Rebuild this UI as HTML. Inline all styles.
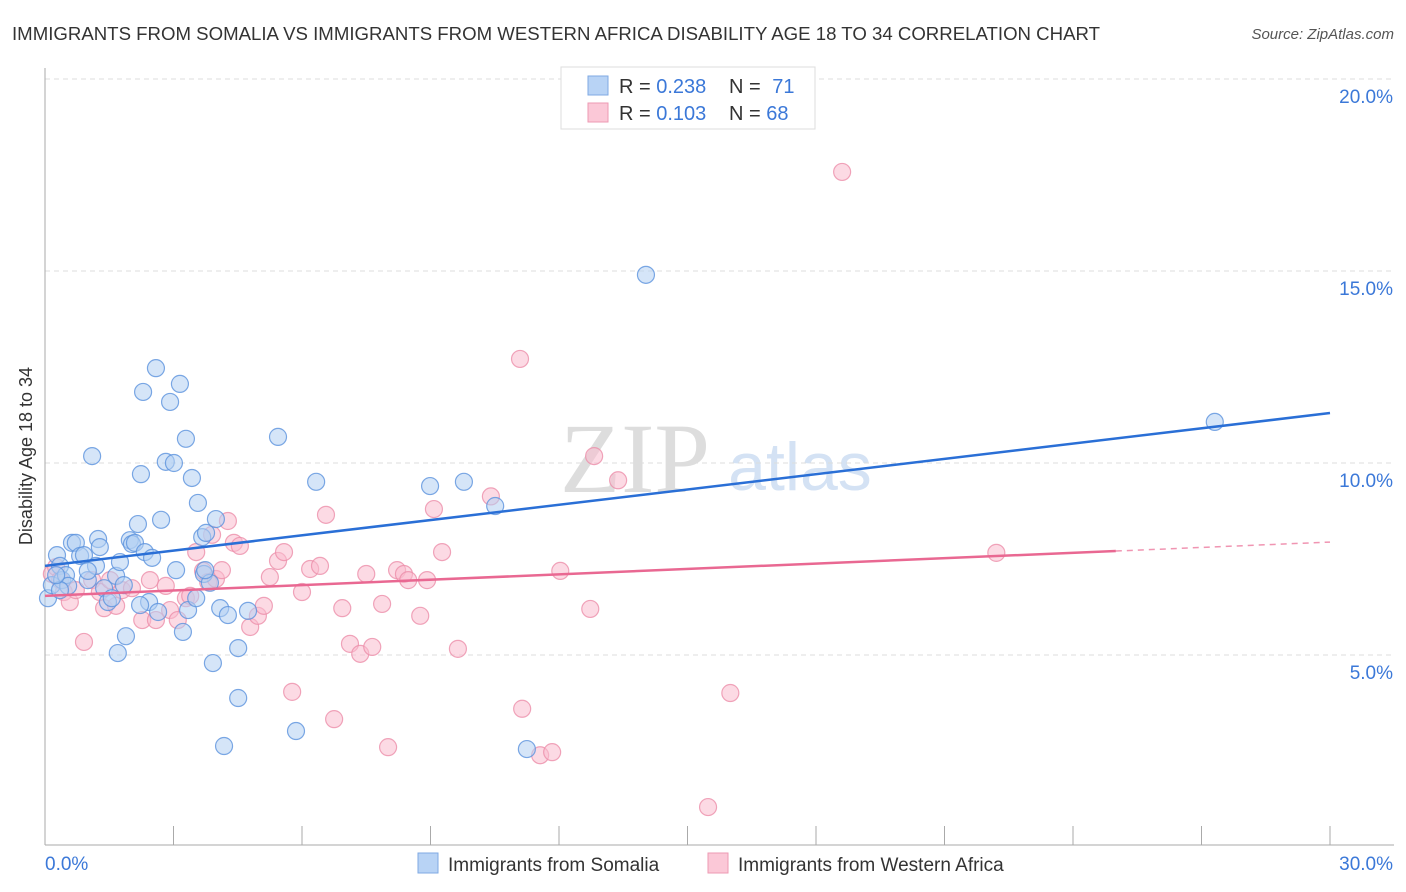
<!DOCTYPE html>
<html><head><meta charset="utf-8">
<style>
body{margin:0;background:#fff;font-family:"Liberation Sans",sans-serif;}
svg{display:block}
</style></head>
<body>
<svg id="chart" width="1406" height="892" xmlns="http://www.w3.org/2000/svg">
<text x="12" y="40" font-size="18" fill="#333" textLength="1088" lengthAdjust="spacingAndGlyphs">IMMIGRANTS FROM SOMALIA VS IMMIGRANTS FROM WESTERN AFRICA DISABILITY AGE 18 TO 34 CORRELATION CHART</text>
<text x="1394" y="39" font-size="15" fill="#555" font-style="italic" text-anchor="end">Source: ZipAtlas.com</text>
<text x="32" y="456" font-size="18" fill="#333" text-anchor="middle" transform="rotate(-90 32 456)">Disability Age 18 to 34</text>
<g>
<text x="635" y="492" font-size="100" fill="#ddd" font-family="Liberation Serif,serif" text-anchor="middle">ZIP</text>
<text x="800" y="490" font-size="68" fill="#d4e2f4" text-anchor="middle">atlas</text>
</g>
<g id="grid"></g>
<g id="axes"></g>
<g id="pts"></g>
<g id="lines"></g>
<g>
<rect x="561" y="67" width="254" height="62" fill="#fff" stroke="#ddd"/>
<rect x="588" y="76" width="20" height="19" fill="#b8d3f5" stroke="#7fa9e3"/>
<rect x="588" y="103" width="20" height="19" fill="#fbc8d7" stroke="#ee9ab3"/>
<text x="619" y="93" font-size="20" fill="#333">R = <tspan fill="#3b78d8">0.238</tspan></text>
<text x="729" y="93" font-size="20" fill="#333">N = <tspan fill="#3b78d8" dx="6">71</tspan></text>
<text x="619" y="120" font-size="20" fill="#333">R = <tspan fill="#3b78d8">0.103</tspan></text>
<text x="729" y="120" font-size="20" fill="#333">N = <tspan fill="#3b78d8">68</tspan></text>
</g>
<g>
<rect x="418" y="853" width="20" height="20" fill="#b8d3f5" stroke="#7fa9e3"/>
<text x="448" y="871" font-size="19" fill="#333">Immigrants from Somalia</text>
<rect x="708" y="853" width="20" height="20" fill="#fbc8d7" stroke="#ee9ab3"/>
<text x="738" y="871" font-size="19" fill="#333">Immigrants from Western Africa</text>
</g>
</svg>
<script>
const xTicks=[0,3,6,9,12,15,18,21,24,27,30];
const yTicks=[5,10,15,20];
const yTickLabels=["5.0%","10.0%","15.0%","20.0%"];
const xEndLabels=["0.0%","30.0%"];
const somaliaX=[0.07,0.16,0.28,0.35,0.40,0.49,0.63,0.72,0.82,0.91,1.00,1.10,1.19,1.24,1.28,1.38,1.47,1.56,1.66,1.70,1.75,1.89,1.98,2.03,2.10,2.17,2.24,2.29,2.33,2.43,2.50,2.59,2.64,2.71,2.82,2.92,3.01,3.06,3.15,3.22,3.29,3.34,3.43,3.53,3.57,3.67,3.71,3.76,3.85,3.92,3.99,4.09,4.18,4.27,4.51,4.51,4.74,5.44,5.86,6.33,8.99,9.78,10.51,11.25,14.03,27.31,2.22,0.54,1.00,0.35,0.26,1.84,3.74];
const somaliaY=[6.48,6.82,7.60,7.32,6.95,7.08,7.92,7.92,7.58,7.60,6.95,10.18,7.32,8.02,7.81,6.74,6.38,6.48,7.06,5.05,7.42,5.49,7.99,7.89,7.92,8.41,9.71,11.85,7.68,6.38,7.53,12.47,6.12,8.52,10.03,11.59,10.00,7.21,12.06,5.60,10.63,6.17,9.61,6.48,8.96,8.07,7.11,8.18,6.88,4.79,8.54,6.22,2.63,6.04,3.88,5.18,6.15,10.68,3.02,9.51,9.40,9.51,8.88,2.55,14.90,11.07,6.30,6.80,7.19,6.69,7.08,6.82,7.21];
const westX=[0.16,0.26,0.35,0.44,0.58,0.72,0.91,1.10,1.28,1.38,1.52,1.66,1.80,2.03,2.27,2.45,2.59,2.82,2.92,3.10,3.29,3.39,3.53,3.69,3.81,3.90,3.99,4.13,4.27,4.41,4.55,4.79,4.97,5.11,5.25,5.44,5.58,5.77,6.00,6.19,6.42,6.56,6.75,6.94,7.12,7.36,7.50,7.64,7.87,8.01,8.22,8.38,8.48,8.76,8.92,9.08,9.27,9.64,10.41,11.09,11.14,11.56,11.84,12.03,12.73,12.82,13.38,15.48,16.00,18.61,22.21];
const westY=[7.11,7.29,6.95,6.64,6.38,6.69,5.34,6.95,6.64,6.22,6.95,6.28,6.69,6.74,5.91,6.95,5.91,6.80,6.17,5.91,6.48,6.54,7.68,7.19,6.90,8.13,6.98,7.21,8.49,7.92,7.84,5.73,6.02,6.28,7.03,7.45,7.68,4.04,6.64,7.24,7.32,8.65,3.33,6.22,5.29,5.03,7.11,5.21,6.33,2.60,7.21,7.11,6.95,6.02,6.95,8.80,7.68,5.16,9.13,12.71,3.60,2.39,2.47,7.19,6.20,10.18,9.55,1.04,4.01,17.58,7.66];
const somaliaFit=[7.32,0.1327];
const westFit=[6.54,0.0467];
const westSolidEnd=25;

const X0=45,X1=1330,Y0=847,PXPERPCT=38.4;
const sx=v=>X0+(X1-X0)*v/30;
const sy=v=>Y0-v*PXPERPCT;
const NS="http://www.w3.org/2000/svg";
function mk(tag,attrs,parent){const e=document.createElementNS(NS,tag);for(const k in attrs)e.setAttribute(k,attrs[k]);parent.appendChild(e);return e;}
const grid=document.getElementById('grid'),axes=document.getElementById('axes'),pts=document.getElementById('pts'),lines=document.getElementById('lines');
yTicks.forEach((t,i)=>{
  const l=mk('line',{x1:X0,x2:1394,y1:sy(t),y2:sy(t),stroke:'#ddd','stroke-dasharray':'5,4'},grid);
  
  
  const tx=mk('text',{x:1393,y:sy(t)+24,'font-size':19,fill:'#3b78d8','text-anchor':'end'},axes);
  tx.textContent=yTickLabels[i];
  
  
});
const yAxis=mk('line',{x1:X0,x2:X0,y1:68,y2:845,stroke:'#aaa'},axes);


const xAxis=mk('line',{x1:X0,x2:1394,y1:845,y2:845,stroke:'#aaa'},axes);


xTicks.forEach(t=>{
  const l=mk('line',{x1:sx(t),x2:sx(t),y1:826,y2:845,stroke:'#aaa'},axes);
  
  
});
const xl0=mk('text',{x:45,y:870,'font-size':19,fill:'#3b78d8'},axes);xl0.textContent=xEndLabels[0];


const xl1=mk('text',{x:1393,y:870,'font-size':19,fill:'#3b78d8','text-anchor':'end'},axes);xl1.textContent=xEndLabels[1];


function drawPts(xs,ys,fill,stroke,name){
  const n=Math.min(xs.length,ys.length);
  for(let i=0;i<n;i++){
    const c=mk('circle',{cx:sx(xs[i]),cy:sy(ys[i]),r:8.5,fill:fill,'fill-opacity':0.55,stroke:stroke,'stroke-width':1.2,'stroke-opacity':0.8},pts);
    
    
  }
}
drawPts(westX,westY,'#f9bccd','#ec8eaa','point-western-africa');
drawPts(somaliaX,somaliaY,'#b3cff3','#5b92dd','point-somalia');
const bl=mk('line',{x1:sx(0),y1:sy(somaliaFit[0]),x2:sx(30),y2:sy(somaliaFit[0]+30*somaliaFit[1]),stroke:'#2a6fd6','stroke-width':2.5},lines);


const pl=mk('line',{x1:sx(0),y1:sy(westFit[0]),x2:sx(westSolidEnd),y2:sy(westFit[0]+westSolidEnd*westFit[1]),stroke:'#e96892','stroke-width':2.5},lines);


const pd=mk('line',{x1:sx(westSolidEnd),y1:sy(westFit[0]+westSolidEnd*westFit[1]),x2:sx(30),y2:sy(westFit[0]+30*westFit[1]),stroke:'#e96892','stroke-width':1.5,'stroke-dasharray':'6,5','stroke-opacity':0.7},lines);


</script>
</body></html>
